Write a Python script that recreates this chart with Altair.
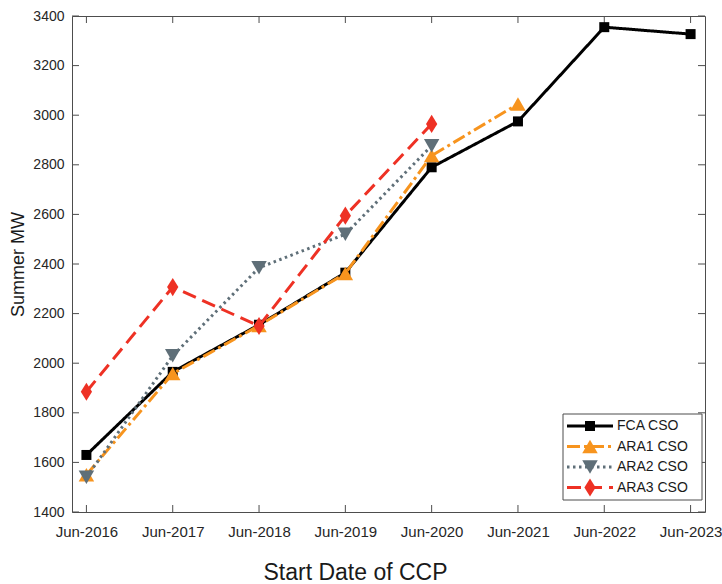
import altair as alt
import pandas as pd

# Capacity commitment period start dates and summer MW per forecast
dates = ["Jun-2016", "Jun-2017", "Jun-2018", "Jun-2019",
         "Jun-2020", "Jun-2021", "Jun-2022", "Jun-2023"]
fca_cso = [1630, 1965, 2155, 2365, 2790, 2975, 3355, 3327]
ara1_cso = [1550, 1958, 2152, 2362, 2837, 3045]
ara2_cso = [1540, 2030, 2385, 2520, 2877]
ara3_cso = [1885, 2307, 2150, 2595, 2965]

series_names = ["FCA CSO", "ARA1 CSO", "ARA2 CSO", "ARA3 CSO"]
series_values = [fca_cso, ara1_cso, ara2_cso, ara3_cso]
y_ticks = [1400, 1600, 1800, 2000, 2200, 2400, 2600, 2800, 3000, 3200, 3400]

# Line / marker styling for each series
colors = ["#000000", "#F7941E", "#5F6F78", "#EE3124"]
dashes = [[1, 0], [13, 4, 3, 4], [2.5, 3.5], [14, 7]]
diamond = "M0,-1L0.62,0L0,1L-0.62,0Z"
shapes = ["square", "triangle-up", "triangle-down", diamond]
sizes = [100, 240, 240, 330]

W, H = 633, 496
FONT = "Liberation Sans"
AXIS_COLOR = "#4d4d4d"

x_enc = alt.X(
    "date:N",
    scale=alt.Scale(type="point", domain=dates, padding=0.167),
    axis=alt.Axis(
        title="Start Date of CCP", labelAngle=0, labelFontSize=15,
        labelPadding=12, titleFontSize=23, titleFontWeight="normal",
        titleX=283, titleY=67, titleBaseline="alphabetic",
    ),
)
y_enc = alt.Y(
    "mw:Q",
    scale=alt.Scale(domain=[1400, 3400], nice=False, zero=False),
    axis=alt.Axis(
        title="Summer MW", values=y_ticks, format="d", labelFontSize=14,
        labelPadding=8, titleFontSize=18, titleFontWeight="normal",
        titleAngle=-90, titleX=-49, titleY=248, titleBaseline="alphabetic",
        titleAlign="center",
    ),
)

layers = []

# Inward tick marks on all four sides of the box
xt = pd.DataFrame({"date": dates})
yt = pd.DataFrame({"mw": y_ticks})
tick_style = dict(color=AXIS_COLOR, strokeWidth=1)
layers.append(alt.Chart(xt).mark_rule(**tick_style).encode(
    x=x_enc, y=alt.value(H), y2=alt.value(H - 7)))
layers.append(alt.Chart(xt).mark_rule(**tick_style).encode(
    x=x_enc, y=alt.value(0), y2=alt.value(7)))
layers.append(alt.Chart(yt).mark_rule(**tick_style).encode(
    y=y_enc, x=alt.value(0), x2=alt.value(7)))
layers.append(alt.Chart(yt).mark_rule(**tick_style).encode(
    y=y_enc, x=alt.value(W), x2=alt.value(W - 7)))

# Data series: line plus filled markers
for name, vals, c, d, s, sz in zip(series_names, series_values,
                                   colors, dashes, shapes, sizes):
    df = pd.DataFrame({"date": dates[:len(vals)], "mw": vals, "series": name})
    base = alt.Chart(df)
    layers.append(base.mark_line(color=c, strokeWidth=3, strokeDash=d).encode(
        x=x_enc, y=y_enc))
    layers.append(base.mark_point(filled=True, opacity=1, color=c, shape=s,
                                  size=sz).encode(x=x_enc, y=y_enc))

# Legend box in the lower right corner
one = pd.DataFrame({"k": [0]})
layers.append(alt.Chart(one).mark_rect(
    fill="white", stroke=AXIS_COLOR, strokeWidth=1).encode(
    x=alt.value(491), x2=alt.value(630), y=alt.value(398), y2=alt.value(484)))
row_y = [410, 430.5, 451, 471.5]
for name, c, d, s, sz, ry in zip(series_names, colors, dashes, shapes,
                                 sizes, row_y):
    layers.append(alt.Chart(one).mark_rule(
        color=c, strokeWidth=3, strokeDash=d).encode(
        x=alt.value(495), x2=alt.value(541), y=alt.value(ry)))
    layers.append(alt.Chart(one).mark_point(
        filled=True, opacity=1, color=c, shape=s, size=sz).encode(
        x=alt.value(518), y=alt.value(ry)))
    layers.append(alt.Chart(one).mark_text(
        align="left", baseline="middle", fontSize=14, font=FONT,
        color="#1a1a1a").encode(
        x=alt.value(545), y=alt.value(ry), text=alt.value(name)))

chart = alt.layer(*layers).properties(
    width=W, height=H,
    autosize=alt.AutoSizeParams(type="none"),
    padding={"left": 72, "top": 16, "right": 17, "bottom": 72},
    background="white",
).configure_view(
    stroke=AXIS_COLOR, strokeWidth=1,
).configure_axis(
    domain=False, grid=False, ticks=False,
    labelFont=FONT, titleFont=FONT,
    labelColor="#262626", titleColor="#1a1a1a",
)

chart.save("out.html", embed_options={"renderer": "svg", "actions": False})
